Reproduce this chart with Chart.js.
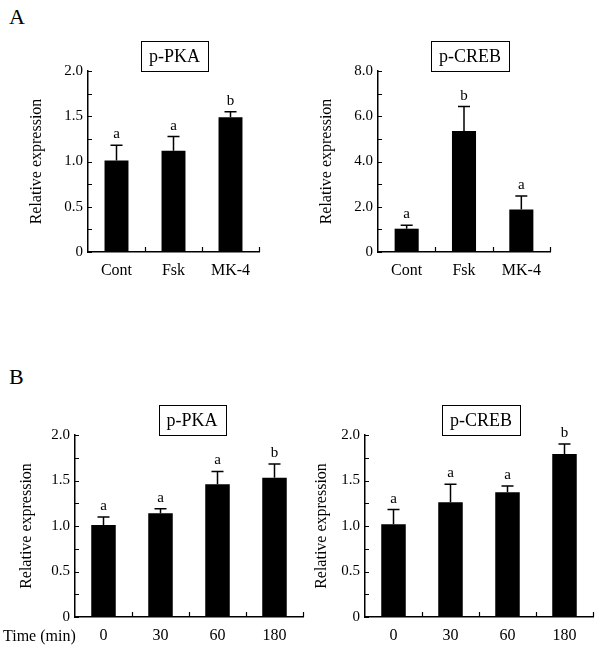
<!DOCTYPE html>
<html>
<head>
<meta charset="utf-8">
<script src="https://cdn.jsdelivr.net/npm/chart.js@4.4.1/dist/chart.umd.min.js"></script>
<style>
  html, body { margin: 0; padding: 0; background: #fff; }
  #wrap { position: relative; width: 600px; height: 656px; overflow: hidden; background: #fff; }
  canvas { position: absolute; }
  .panel { position: absolute; font-family: 'Liberation Serif', 'Times New Roman', serif; font-size: 22px; color: #000; line-height: 1; }
</style>
</head>
<body>
<div id="wrap">
  <div class="panel" style="left:9px; top:6px;">A</div>
  <div class="panel" style="left:9px; top:366px;">B</div>
  <canvas id="cA1" width="300" height="300" style="left:0; top:0;"></canvas>
  <canvas id="cA2" width="300" height="300" style="left:300px; top:0;"></canvas>
  <canvas id="cB1" width="310" height="316" style="left:0; top:340px;"></canvas>
  <canvas id="cB2" width="300" height="316" style="left:300px; top:340px;"></canvas>
</div>
<script>
// ---------- Data ----------
const treatments = ['Cont', 'Fsk', 'MK-4'];
const timePoints = ['0', '30', '60', '180'];

const pkaTreat = [1.01, 1.12, 1.49];
const pkaTreatErr = [0.17, 0.155, 0.06];
const pkaTreatLetters = ['a', 'a', 'b'];

const crebTreat = [1.03, 5.35, 1.88];
const crebTreatErr = [0.15, 1.08, 0.60];
const crebTreatLetters = ['a', 'b', 'a'];

const pkaTime = [1.01, 1.14, 1.46, 1.53];
const pkaTimeErr = [0.09, 0.05, 0.14, 0.15];
const pkaTimeLetters = ['a', 'a', 'a', 'b'];

const crebTime = [1.02, 1.26, 1.37, 1.79];
const crebTimeErr = [0.16, 0.20, 0.07, 0.11];
const crebTimeLetters = ['a', 'a', 'a', 'b'];

const yTitle = 'Relative expression';
const timeAxisLabel = 'Time (min)';

// ---------- Rendering ----------
const FONT = "'Liberation Serif', 'Times New Roman', serif";

const decorPlugin = {
  id: 'decor',
  afterDatasetsDraw(chart, args, opts) {
    const ctx = chart.ctx;
    const xs = chart.scales.x, ys = chart.scales.y;
    const ca = chart.chartArea;
    const meta = chart.getDatasetMeta(0);
    ctx.save();
    // error bars + letters
    ctx.strokeStyle = '#000';
    ctx.lineWidth = 1.5;
    ctx.fillStyle = '#000';
    ctx.font = '15px ' + FONT;
    ctx.textAlign = 'center';
    ctx.textBaseline = 'alphabetic';
    opts.values.forEach((v, i) => {
      const el = meta.data[i];
      const x = el.x;
      const yTop = ys.getPixelForValue(v + opts.errs[i]);
      const yBar = ys.getPixelForValue(v);
      ctx.beginPath();
      ctx.moveTo(x, yBar);
      ctx.lineTo(x, yTop);
      ctx.moveTo(x - 6, yTop);
      ctx.lineTo(x + 6, yTop);
      ctx.stroke();
      ctx.fillText(opts.letters[i], x, yTop - 7);
    });
    // inward ticks on y axis
    ctx.lineWidth = 1.2;
    ctx.beginPath();
    ys.ticks.forEach(t => {
      const y = Math.round(ys.getPixelForValue(t.value)) + 0.5;
      ctx.moveTo(ca.left, y);
      ctx.lineTo(ca.left + 4, y);
    });
    // inward ticks on x axis at category boundaries
    const n = opts.values.length;
    for (let i = 1; i <= n; i++) {
      const x = Math.round(xs.getPixelForValue(i - 0.5)) + 0.5;
      ctx.moveTo(x, ca.bottom);
      ctx.lineTo(x, ca.bottom - 5);
    }
    ctx.stroke();
    // title box
    ctx.font = '18px ' + FONT;
    const tw = ctx.measureText(opts.title).width;
    const bw = Math.round(tw + 16), bh = 30;
    const cx = (ca.left + ca.right) / 2 + opts.boxOffset;
    const bx = Math.round(cx - bw / 2) + 0.5;
    const by = Math.round(ca.top - bh) + 0.5;
    ctx.fillStyle = '#fff';
    ctx.fillRect(bx, by, bw, bh);
    ctx.lineWidth = 1;
    ctx.strokeStyle = '#000';
    ctx.strokeRect(bx, by, bw, bh);
    ctx.fillStyle = '#000';
    ctx.textBaseline = 'middle';
    ctx.fillText(opts.title, cx, by + bh / 2 + 1);
    // optional extra axis label
    if (opts.extraLabel) {
      ctx.font = '16px ' + FONT;
      ctx.textAlign = 'left';
      ctx.textBaseline = 'middle';
      ctx.fillText(opts.extraLabel, 3, ca.bottom + 20);
    }
    ctx.restore();
  }
};

function makeChart(id, p) {
  const canvas = document.getElementById(id);
  const W = canvas.width, H = canvas.height;
  const a = p.area;
  return new Chart(canvas, {
    type: 'bar',
    data: {
      labels: p.labels,
      datasets: [{
        data: p.values,
        backgroundColor: '#000',
        borderWidth: 0,
        barPercentage: p.barPct,
        categoryPercentage: 1.0
      }]
    },
    options: {
      responsive: false,
      animation: false,
      devicePixelRatio: 1,
      layout: { padding: { left: 0, top: a.t, right: W - a.r, bottom: 0 } },
      plugins: {
        legend: { display: false },
        tooltip: { enabled: false },
        title: { display: false },
        decor: {
          values: p.values, errs: p.errs, letters: p.letters,
          title: p.title, boxOffset: p.boxOffset, extraLabel: p.extraLabel || null
        }
      },
      scales: {
        x: {
          type: 'category',
          offset: true,
          grid: { display: false, drawTicks: false, offset: true },
          border: { display: true, color: '#000', width: 1.5 },
          ticks: { color: '#000', font: { family: FONT, size: 16 }, padding: 9, maxRotation: 0, autoSkip: false },
          afterFit(s) { s.height = H - a.b; }
        },
        y: {
          min: 0, max: p.yMax,
          grid: { display: false, drawTicks: false },
          border: { display: true, color: '#000', width: 1.5 },
          ticks: {
            stepSize: p.yStep,
            autoSkip: false,
            color: '#000',
            padding: 5,
            font: { family: FONT, size: 15 },
            callback(v) {
              if (v === 0) return '0';
              const r = v / p.labelStep;
              return Math.abs(r - Math.round(r)) < 1e-6 ? v.toFixed(1) : '';
            }
          },
          title: {
            display: true, text: yTitle, color: '#000',
            font: { family: FONT, size: 16 },
            padding: { top: p.yTitleX - 9.6, bottom: 0 }
          },
          afterFit(s) { s.width = a.l; }
        }
      }
    },
    plugins: [decorPlugin]
  });
}

makeChart('cA1', {
  labels: treatments, values: pkaTreat, errs: pkaTreatErr, letters: pkaTreatLetters,
  title: 'p-PKA', yMax: 2.0, yStep: 0.25, labelStep: 0.5,
  area: { l: 88, t: 71, r: 259, b: 252 }, yTitleX: 37, barPct: 0.42, boxOffset: 1
});
makeChart('cA2', {
  labels: treatments, values: crebTreat, errs: crebTreatErr, letters: crebTreatLetters,
  title: 'p-CREB', yMax: 8.0, yStep: 1, labelStep: 2,
  area: { l: 78, t: 71, r: 250, b: 252 }, yTitleX: 27, barPct: 0.42, boxOffset: 6
});
makeChart('cB1', {
  labels: timePoints, values: pkaTime, errs: pkaTimeErr, letters: pkaTimeLetters,
  title: 'p-PKA', yMax: 2.0, yStep: 0.25, labelStep: 0.5,
  area: { l: 75, t: 95, r: 303, b: 277 }, yTitleX: 27, barPct: 0.43, boxOffset: 3,
  extraLabel: timeAxisLabel
});
makeChart('cB2', {
  labels: timePoints, values: crebTime, errs: crebTimeErr, letters: crebTimeLetters,
  title: 'p-CREB', yMax: 2.0, yStep: 0.25, labelStep: 0.5,
  area: { l: 65, t: 95, r: 293, b: 277 }, yTitleX: 22, barPct: 0.43, boxOffset: 2
});
</script>
</body>
</html>
